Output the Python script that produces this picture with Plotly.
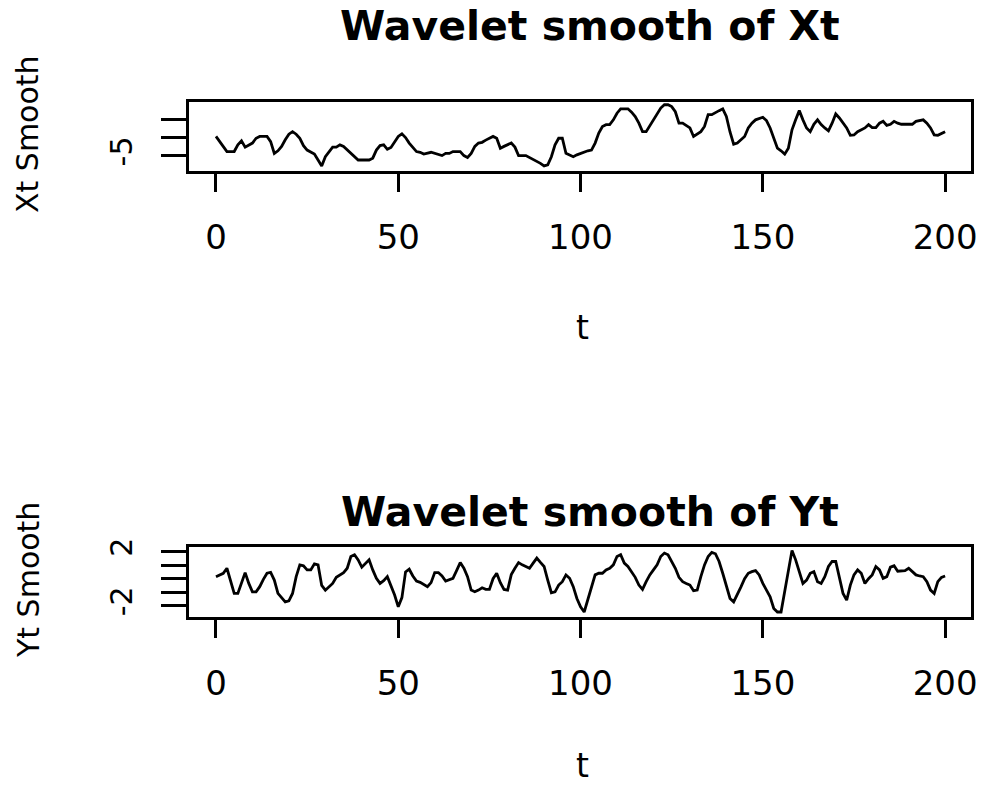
import plotly.graph_objects as go

# ---- data ----
t_x = [0, 3, 5, 6, 7, 8, 10, 11, 12, 14, 15, 16, 17, 18, 19, 20, 21, 22, 23, 24, 25, 27, 28, 29, 30,
       32, 33, 34, 35, 37, 39, 42, 43, 44, 45, 46, 47, 48, 49, 50, 51, 52, 53, 55, 56, 57, 59, 60, 62,
       63, 64, 65, 67, 68, 69, 70, 71, 72, 73, 74, 75, 76, 77, 78, 79, 81, 82, 83, 85, 86, 87, 89, 90,
       91, 92, 93, 94, 95, 96, 98, 99, 100, 101, 102, 103, 104, 105, 106, 107, 108, 109, 110, 111, 113,
       114, 115, 116, 117, 118, 119, 120, 121, 122, 123, 124, 125, 126, 127, 128, 130, 131, 133, 134,
       135, 136, 138, 139, 140, 141, 142, 143, 145, 146, 147, 148, 150, 151, 152, 153, 154, 155, 156,
       157, 158, 159, 160, 161, 162, 163, 164, 165, 166, 167, 168, 169, 170, 171, 172, 173, 174, 175,
       176, 178, 179, 180, 181, 182, 183, 184, 185, 186, 187, 188, 191, 192, 194, 195, 196, 197, 198,
       199, 200]
x_smooth = [0.3, -3.8, -3.8, -2.0, -0.9, -2.6, -1.5, -0.2, 0.3, 0.3, -1.1, -4.3, -3.6, -2.4, -0.6, 0.9,
            1.6, 0.9, -0.2, -2.2, -3.4, -4.5, -6.1, -7.7, -5.2, -2.6, -2.6, -2.0, -2.4, -4.3, -6.1, -6.1,
            -5.6, -3.4, -2.2, -2.0, -3.2, -2.7, -1.1, 0.3, 1.0, 0.0, -1.5, -3.8, -4.0, -4.5, -4.0, -4.3,
            -4.9, -4.3, -4.3, -3.8, -3.8, -4.9, -5.4, -4.3, -2.4, -1.5, -1.3, -0.7, -0.2, 0.3, -0.2, -2.9,
            -2.4, -1.5, -2.6, -4.9, -4.9, -5.4, -5.8, -7.0, -7.7, -7.4, -5.2, -2.0, -0.2, -0.2, -4.3, -5.2,
            -4.7, -4.3, -3.8, -3.6, -3.4, -1.5, 1.2, 3.0, 3.5, 3.5, 4.8, 6.6, 7.8, 7.8, 6.9, 5.7, 3.9, 1.6,
            1.6, 3.2, 4.8, 6.5, 8.0, 8.9, 8.9, 8.4, 7.0, 3.9, 3.9, 2.6, 0.3, 1.6, 3.0, 6.2, 6.2, 7.3, 7.8,
            5.7, 1.5, -1.8, -1.5, 0.3, 2.6, 3.9, 4.8, 5.5, 4.6, 2.6, -0.2, -2.9, -3.6, -4.5, -2.9, 2.1, 4.8,
            7.3, 4.8, 2.6, 1.6, 3.6, 4.8, 3.5, 2.6, 1.8, 3.9, 6.4, 5.3, 3.9, 2.6, 0.6, 0.7, 1.6, 2.6, 3.5,
            2.7, 2.7, 3.9, 4.4, 3.3, 3.6, 4.4, 3.9, 3.6, 3.6, 4.4, 4.8, 3.9, 2.6, 0.7, 0.6, 1.2, 1.6]

t_y = [0, 2, 3, 4, 5, 6, 7, 8, 9, 10, 11, 12, 13, 14, 15, 16, 17, 18, 19, 20, 21, 22, 23, 24, 25, 26,
       27, 28, 29, 30, 32, 33, 34, 35, 36, 37, 38, 39, 40, 41, 42, 43, 44, 45, 46, 47, 48, 49, 50, 51,
       52, 53, 54, 55, 56, 57, 58, 59, 60, 61, 62, 63, 64, 65, 66, 67, 68, 69, 70, 71, 72, 73, 74, 75,
       76, 77, 78, 79, 80, 81, 82, 83, 84, 85, 86, 87, 88, 89, 90, 91, 92, 93, 94, 95, 96, 97, 98, 99,
       100, 101, 102, 103, 104, 105, 106, 107, 108, 109, 110, 111, 112, 113, 114, 115, 116, 117, 118,
       119, 120, 121, 122, 123, 124, 125, 126, 127, 128, 129, 130, 131, 132, 133, 134, 135, 136, 137,
       138, 139, 140, 141, 142, 143, 144, 145, 146, 147, 148, 149, 150, 151, 152, 153, 154, 155, 158,
       159, 160, 161, 162, 163, 164, 165, 166, 167, 168, 169, 170, 171, 172, 173, 174, 175, 176, 177,
       178, 179, 180, 181, 182, 183, 184, 185, 186, 187, 188, 189, 190, 191, 192, 193, 194, 195, 196,
       197, 198, 199, 200]
y_smooth = [0.15, 0.40, 0.77, -0.22, -1.09, -1.09, -0.35, 0.45, -0.35, -0.97, -0.97, -0.59, -0.05,
            0.40, 0.47, -0.10, -1.09, -1.39, -1.71, -1.64, -1.09, 0.15, 1.02, 0.95, 0.65, 0.65, 1.10,
            1.02, -0.50, -0.85, -0.35, 0.10, 0.30, 0.45, 0.77, 1.64, 1.77, 1.39, 0.85, 1.15, 1.39, 0.65,
            0.03, -0.35, -0.15, 0.15, -0.47, -1.21, -2.08, -1.40, 0.50, 0.70, 0.20, -0.17, -0.27, -0.45,
            -0.59, -0.29, 0.45, 0.45, 0.20, -0.17, -0.05, 0.03, 0.60, 1.19, 0.77, 0.15, -0.84, -0.97,
            -0.84, -0.67, -0.79, -0.79, 0.00, 0.40, -0.30, -0.79, -0.84, 0.30, 0.77, 1.19, 1.02, 0.90,
            0.77, 1.15, 1.52, 1.20, 0.90, -0.10, -1.04, -0.97, -0.47, -0.22, 0.28, 0.03, -0.59, -1.46,
            -2.08, -2.46, -1.59, -0.72, 0.28, 0.40, 0.40, 0.65, 0.77, 1.02, 1.64, 1.77, 1.15, 0.90, 0.50,
            0.10, -0.47, -0.79, -0.22, 0.28, 0.65, 1.02, 1.64, 1.89, 1.77, 1.27, 0.77, 0.10, -0.22, -0.35,
            -0.47, -0.89, -0.84, 0.15, 1.02, 1.64, 1.94, 1.84, 1.27, 0.40, -0.59, -1.46, -1.71, -1.21,
            -0.60, 0.00, 0.40, 0.52, 0.60, 0.28, -0.35, -0.84, -1.34, -2.20, -2.46, -2.46, 2.09, 1.39,
            0.52, -0.35, -0.10, 0.40, 0.52, -0.22, -0.35, 0.15, 0.90, 1.27, 1.27, 0.15, -1.09, -1.59,
            -0.47, 0.28, 0.65, 0.40, -0.35, 0.00, 0.28, 0.90, 0.65, 0.03, 0.15, 0.85, 0.95, 0.55, 0.55,
            0.60, 0.77, 0.52, 0.28, 0.20, 0.15, -0.22, -0.84, -1.09, -0.22, 0.10, 0.20]

x_ticks = [0, 50, 100, 150, 200]
x_tick_text = ["0", "50", "100", "150", "200"]
xt_ticks = [-5, 0, 5]
xt_tick_text = ["-5", "", ""]
yt_ticks = [-2, -1, 0, 1, 2]
yt_tick_text = ["-2", "", "", "", "2"]
titles = ["Wavelet smooth of Xt", "Wavelet smooth of Yt"]
y_titles = ["Xt Smooth", "Yt Smooth"]
x_title = "t"

W, H = 983, 787
FONT = "DejaVu Sans"

fig = go.Figure()
fig.add_trace(go.Scatter(x=t_x, y=x_smooth, mode="lines", line=dict(color="black", width=2.8),
                         xaxis="x", yaxis="y", showlegend=False, hoverinfo="skip"))
fig.add_trace(go.Scatter(x=t_y, y=y_smooth, mode="lines", line=dict(color="black", width=2.8),
                         xaxis="x2", yaxis="y2", showlegend=False, hoverinfo="skip"))

def px_x(p):
    return p / W

def px_y(p):
    return 1 - p / H

xdom = [px_x(189), px_x(971)]
common_x = dict(range=[-7.4, 207.1], tickvals=x_ticks, ticktext=x_tick_text, ticks="outside",
                ticklen=18, tickwidth=2.5, tickcolor="black", showline=True, linecolor="black",
                linewidth=2.5, mirror=True, showgrid=False, zeroline=False, automargin=False,
                tickfont=dict(family=FONT, size=34, color="black"), ticklabelstandoff=16)
common_y = dict(ticks="outside", ticklen=25, tickwidth=2.5, tickcolor="black", showline=True,
                linecolor="black", linewidth=2.5, mirror=True, showgrid=False, zeroline=False,
                automargin=False, tickangle=-90, tickfont=dict(family=FONT, size=30, color="black"),
                ticklabelstandoff=17)

fig.update_layout(
    width=W, height=H, margin=dict(l=0, r=0, t=0, b=0),
    paper_bgcolor="white", plot_bgcolor="white",
    xaxis=dict(domain=xdom, anchor="y", **common_x),
    yaxis=dict(domain=[px_y(171), px_y(102)], anchor="x", range=[-9.08, 9.64],
               tickvals=xt_ticks, ticktext=xt_tick_text, **common_y),
    xaxis2=dict(domain=xdom, anchor="y2", **common_x),
    yaxis2=dict(domain=[px_y(617), px_y(547)], anchor="x2", range=[-2.83, 2.34],
                tickvals=yt_ticks, ticktext=yt_tick_text, **common_y),
)

ann = []
# top title: anchored to the top edge so it is not clipped
ann.append(dict(text="<b>%s</b>" % titles[0], x=px_x(590), y=1.0, xref="paper", yref="paper",
                xanchor="center", yanchor="top", showarrow=False,
                font=dict(family=FONT, size=41, color="black")))
ann.append(dict(text="<b>%s</b>" % titles[1], x=px_x(590), y=px_y(512), xref="paper", yref="paper",
                xanchor="center", yanchor="middle", showarrow=False,
                font=dict(family=FONT, size=41, color="black")))
for ytl, yc in zip(y_titles, [134, 580]):
    ann.append(dict(text=ytl, x=px_x(28), y=px_y(yc), xref="paper", yref="paper",
                    xanchor="center", yanchor="middle", textangle=-90, showarrow=False,
                    font=dict(family=FONT, size=30, color="black")))
ann.append(dict(text=x_title, x=px_x(582), y=px_y(327), xref="paper", yref="paper",
                xanchor="center", yanchor="middle", showarrow=False,
                font=dict(family=FONT, size=33, color="black")))
ann.append(dict(text=x_title, x=px_x(582), y=0.0, xref="paper", yref="paper",
                xanchor="center", yanchor="bottom", showarrow=False,
                font=dict(family=FONT, size=33, color="black")))
fig.update_layout(annotations=ann)

fig.write_html("out.html")
